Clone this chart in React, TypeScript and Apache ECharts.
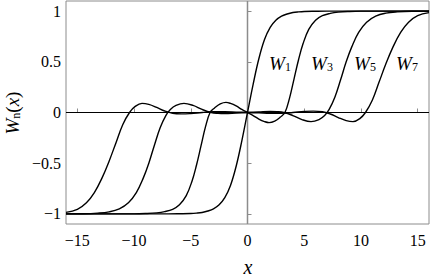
import React, { useEffect, useRef } from "react";
import * as echarts from "echarts";

const xTicks = [-15, -10, -5, 0, 5, 10, 15];
const yTicks = [-1, -0.5, 0, 0.5, 1];

const w1X = [-16, -7, -6, -5, -4.5, -4, -3.5, -3, -2.5, -2, -1.5, -1, -0.5, 0, 0.5, 1, 1.5, 2, 2.5, 3, 3.5, 4, 4.5, 5, 6, 7, 16];
const w1Y = [-1, -1, -0.999, -0.997, -0.993, -0.986, -0.972, -0.95, -0.91, -0.84, -0.72, -0.53, -0.28, 0, 0.28, 0.53, 0.72, 0.84, 0.91, 0.95, 0.972, 0.986, 0.993, 0.997, 0.999, 1, 1];

const w3X = [-16, -10, -9, -8, -7.3, -6.6, -6, -5.4, -4.9, -4.5, -4.1, -3.7, -3.3, -2.9, -2.4, -1.9, -1.5, -1, -0.5, 0, 0.5, 1, 1.5, 1.9, 2.4, 2.9, 3.3, 3.7, 4.1, 4.5, 4.9, 5.4, 6, 6.6, 7.3, 8, 9, 10, 16];
const w3Y = [-1, -1, -0.997, -0.99, -0.978, -0.955, -0.91, -0.82, -0.68, -0.52, -0.33, -0.14, 0, 0.045, 0.085, 0.1, 0.09, 0.065, 0.03, 0, -0.03, -0.065, -0.09, -0.1, -0.085, -0.045, 0, 0.14, 0.33, 0.52, 0.68, 0.82, 0.91, 0.955, 0.978, 0.99, 0.997, 1, 1];

const w5X = [-16, -14.5, -13.2, -12.2, -11.3, -10.5, -9.8, -9.2, -8.7, -8.2, -7.7, -7.2, -6.8, -6.3, -5.6, -4.8, -4, -3.2, -2.6, -2, -1, 0, 1, 2, 2.6, 3.2, 4, 4.8, 5.6, 6.3, 6.8, 7.2, 7.7, 8.2, 8.7, 9.2, 9.8, 10.5, 11.3, 12.2, 13.2, 14.5, 16];
const w5Y = [-1, -0.999, -0.993, -0.98, -0.95, -0.89, -0.79, -0.65, -0.5, -0.32, -0.15, -0.03, 0.03, 0.07, 0.09, 0.07, 0.03, 0, -0.008, -0.01, -0.005, 0, 0.005, 0.01, 0.008, 0, -0.03, -0.07, -0.09, -0.07, -0.03, 0.03, 0.15, 0.32, 0.5, 0.65, 0.79, 0.89, 0.95, 0.98, 0.993, 0.999, 1];

const w7X = [-16, -15, -14.2, -13.5, -12.8, -12.2, -11.6, -11, -10.4, -9.9, -9.3, -8.7, -8, -7.3, -6.6, -5.8, -5, -4, -3, -2, -1, 0, 1, 2, 3, 4, 5, 5.8, 6.6, 7.3, 8, 8.7, 9.3, 9.9, 10.4, 11, 11.6, 12.2, 12.8, 13.5, 14.2, 15, 16];
const w7Y = [-0.985, -0.955, -0.89, -0.79, -0.64, -0.48, -0.3, -0.12, 0, 0.06, 0.09, 0.08, 0.05, 0.015, -0.008, -0.014, -0.01, 0, 0.008, 0.008, 0.004, 0, -0.004, -0.008, -0.008, 0, 0.01, 0.014, 0.008, -0.015, -0.05, -0.08, -0.09, -0.06, 0, 0.12, 0.3, 0.48, 0.64, 0.79, 0.89, 0.955, 0.985];

const curveNames = ["1", "3", "5", "7"];

const FONT = "Liberation Serif";

function pairs(xs: number[], ys: number[]) {
  return xs.map((x, i) => [x, ys[i]]);
}

const fmt = (v: number) => String(v).replace("-", "\u2212");

export default function App() {
  const ref = useRef<HTMLDivElement>(null);
  useEffect(() => {
    if (!ref.current) return;
    const chart = echarts.init(ref.current, null, { renderer: "svg" });
    const curves = [pairs(w1X, w1Y), pairs(w3X, w3Y), pairs(w5X, w5Y), pairs(w7X, w7Y)];
    const labelX = [280, 322, 365, 407];
    const rich = {
      i: { fontFamily: FONT, fontStyle: "italic", fontSize: 19, fill: "#000", lineHeight: 20 },
      s: { fontFamily: FONT, fontSize: 12, fill: "#000", padding: [8, 0, 0, 0], lineHeight: 20 },
      r: { fontFamily: FONT, fontSize: 19, fill: "#000", lineHeight: 20 },
    };
    chart.setOption({
      animation: false,
      textStyle: { fontFamily: FONT },
      grid: { left: 66, right: 1, top: 1, bottom: 54, show: true, borderColor: "#8c8c8c", borderWidth: 1 },
      xAxis: {
        type: "value",
        min: -16,
        max: 16,
        axisLine: { show: false },
        splitLine: { show: false },
        axisTick: { show: true, inside: true, length: 4, lineStyle: { color: "#8c8c8c" }, customValues: xTicks },
        axisLabel: { customValues: xTicks, formatter: fmt, fontFamily: FONT, fontSize: 16, color: "#000", margin: 8 },
      },
      yAxis: {
        type: "value",
        min: -1.1,
        max: 1.1,
        axisLine: { show: false },
        splitLine: { show: false },
        axisTick: { show: true, inside: true, length: 4, lineStyle: { color: "#8c8c8c" }, customValues: yTicks },
        axisLabel: { customValues: yTicks, formatter: fmt, fontFamily: FONT, fontSize: 16, color: "#000", margin: 5 },
      },
      series: [
        {
          type: "line",
          data: [[-16, 0], [16, 0]],
          showSymbol: false,
          lineStyle: { color: "#000", width: 1 },
          silent: true,
          z: 1,
        },
        {
          type: "line",
          data: [[0, -1.1], [0, 1.1]],
          showSymbol: false,
          lineStyle: { color: "#8c8c8c", width: 1.5 },
          silent: true,
          z: 1,
        },
        ...curves.map((d, k) => ({
          type: "line",
          name: "W" + curveNames[k],
          data: d,
          showSymbol: false,
          smooth: 0.4,
          lineStyle: { color: "#000", width: 1.4 },
          z: 3,
        })),
      ],
      graphic: [
        ...curveNames.map((n, k) => ({
          type: "text",
          x: labelX[k],
          y: 63,
          style: {
            text: "{i|W}{s|" + n + "}",
            rich,
            align: "center",
            verticalAlign: "middle",
          },
        })),
        {
          type: "text",
          x: 248,
          y: 267,
          style: {
            text: "x",
            fontFamily: FONT,
            fontStyle: "italic",
            fontSize: 20,
            fill: "#000",
            align: "center",
            verticalAlign: "middle",
          },
        },
        {
          type: "text",
          x: 12,
          y: 113,
          rotation: Math.PI / 2,
          style: {
            text: "{i|W}{s|n}{r|(}{i|x}{r|)}",
            rich,
            align: "center",
            verticalAlign: "middle",
          },
        },
      ],
    });
    return () => chart.dispose();
  }, []);
  return <div ref={ref} style={{ width: 430, height: 278, position: "absolute", left: 0, top: 0 }} />;
}
